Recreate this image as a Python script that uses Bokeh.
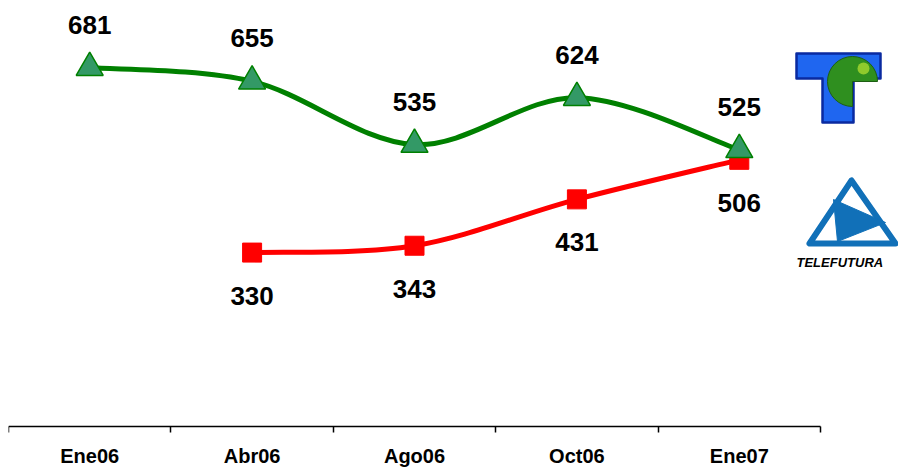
import math
from bokeh.plotting import figure
from bokeh.models import Range1d, LinearAxis, FixedTicker
from bokeh.core.properties import value
from bokeh.embed import file_html
from bokeh.resources import INLINE

# ---- data ----
categories = ["Ene06", "Abr06", "Ago06", "Oct06", "Ene07"]
televisa = [681, 655, 535, 624, 525]          # green series, all periods
telefutura = [None, 330, 343, 431, 506]       # red series, starts at Abr06

FONT = "Liberation Sans"


def pairs(vals):
    xs = [i for i, v in enumerate(vals) if v is not None]
    ys = [v for v in vals if v is not None]
    return xs, ys


def smooth_segments(xs, ys):
    n = len(xs)
    seg = dict(x0=[], y0=[], x1=[], y1=[], cx0=[], cy0=[], cx1=[], cy1=[])
    for i in range(n - 1):
        a = max(i - 1, 0)
        d = min(i + 2, n - 1)
        seg["x0"].append(xs[i]); seg["y0"].append(ys[i])
        seg["x1"].append(xs[i + 1]); seg["y1"].append(ys[i + 1])
        seg["cx0"].append(xs[i] + (xs[i + 1] - xs[a]) / 6.0)
        seg["cy0"].append(ys[i] + (ys[i + 1] - ys[a]) / 6.0)
        seg["cx1"].append(xs[i + 1] - (xs[d] - xs[i]) / 6.0)
        seg["cy1"].append(ys[i + 1] - (ys[d] - ys[i]) / 6.0)
    return seg


W, H = 898, 470
LEFT = 8
X0, XS = 9.0, 162.4       # picture x of -0.5, pixels per category
Y0, YS = 426.0, 0.527     # picture y of value 0, pixels per unit

x_end = -0.5 + (W + 1 - X0) / XS
y_top = Y0 / YS
y_bot = -(H - Y0) / YS

p = figure(width=W, height=H, output_backend="svg", toolbar_location=None,
           x_axis_type=None, y_axis_type=None,
           x_range=Range1d(-0.5, x_end), y_range=Range1d(y_bot, y_top),
           min_border_left=LEFT, min_border_right=0, min_border_top=0,
           min_border_bottom=0, outline_line_color=None)
p.grid.visible = False
p.background_fill_color = "white"

# ---- red series ----
rx, ry = pairs(telefutura)
p.bezier(line_color="#FF0000", line_width=5, line_cap="round",
         **smooth_segments(rx, ry))
p.scatter(rx, ry, marker="square", size=19, fill_color="#FF0000",
          line_color="#FF0000")
p.text(rx, ry, text=[str(v) for v in ry], y_offset=43,
       text_font=value(FONT), text_font_style="bold", text_font_size="26px",
       text_align="center", text_baseline="middle", text_color="black")

# ---- green series ----
gx, gy = pairs(televisa)
p.bezier(line_color="#008000", line_width=5, line_cap="round",
         **smooth_segments(gx, gy))
p.scatter(gx, gy, marker="triangle", size=27, fill_color="#339966",
          line_color="#008000", line_width=1.5)
p.text(gx, gy, text=[str(v) for v in gy], y_offset=-43,
       text_font=value(FONT), text_font_style="bold", text_font_size="26px",
       text_align="center", text_baseline="middle", text_color="black")


# ---- logos (decorative, positioned in picture pixels) ----
def dx(px):
    return (px - X0) / XS - 0.5


def dy(py):
    return (Y0 - py) / YS


t_shape = [(797, 53), (881, 53), (881, 78), (854, 78), (854, 122),
           (823, 122), (823, 78), (797, 78)]
p.patch([dx(a) for a, b in t_shape], [dy(b) for a, b in t_shape],
        fill_color="#1f66f0", line_color="#0a2aa0", line_width=2.5,
        line_join="round")
p.wedge(dx(853), dy(81), radius=25, radius_units="screen",
        start_angle=0, end_angle=1.5 * math.pi, direction="anticlock",
        fill_color="#2f8f1f", line_color="#1d5e12", line_width=1)
p.scatter([dx(864)], [dy(68)], size=12, fill_color="#a8d830",
          line_color=None, fill_alpha=0.8)

tri = [(852, 180), (810, 243), (896, 243)]
p.patch([dx(a) for a, b in tri], [dy(b) for a, b in tri],
        fill_color=None, line_color="#1170b8", line_width=6,
        line_join="round")
play = [(834, 199), (886, 222), (838, 241)]
p.patch([dx(a) for a, b in play], [dy(b) for a, b in play],
        fill_color="#1170b8", line_color="#1170b8", line_width=1)
p.text([dx(797)], [dy(262)], text=["TELEFUTURA"],
       text_font=value(FONT), text_font_style="bold italic",
       text_font_size="13px", text_align="left", text_baseline="middle",
       text_color="black")

# ---- x axis ----
ax = LinearAxis(ticker=FixedTicker(ticks=[0, 1, 2, 3, 4],
                                   minor_ticks=[-0.5, 0.5, 1.5, 2.5, 3.5, 4.5]),
                major_label_overrides={i: c for i, c in enumerate(categories)},
                bounds=(-0.5, 4.5), fixed_location=0)
ax.axis_line_color = "black"
ax.axis_line_width = 1.5
ax.major_tick_line_color = None
ax.major_tick_out = 0
ax.major_tick_in = 0
ax.minor_tick_line_color = "black"
ax.minor_tick_line_width = 1.5
ax.minor_tick_out = 6
ax.minor_tick_in = 0
ax.major_label_standoff = 12
ax.major_label_text_font = FONT
ax.major_label_text_font_style = "bold"
ax.major_label_text_font_size = "20px"
ax.major_label_text_color = "black"
p.add_layout(ax, "below")

open("out.html", "w").write(file_html(p, INLINE))
